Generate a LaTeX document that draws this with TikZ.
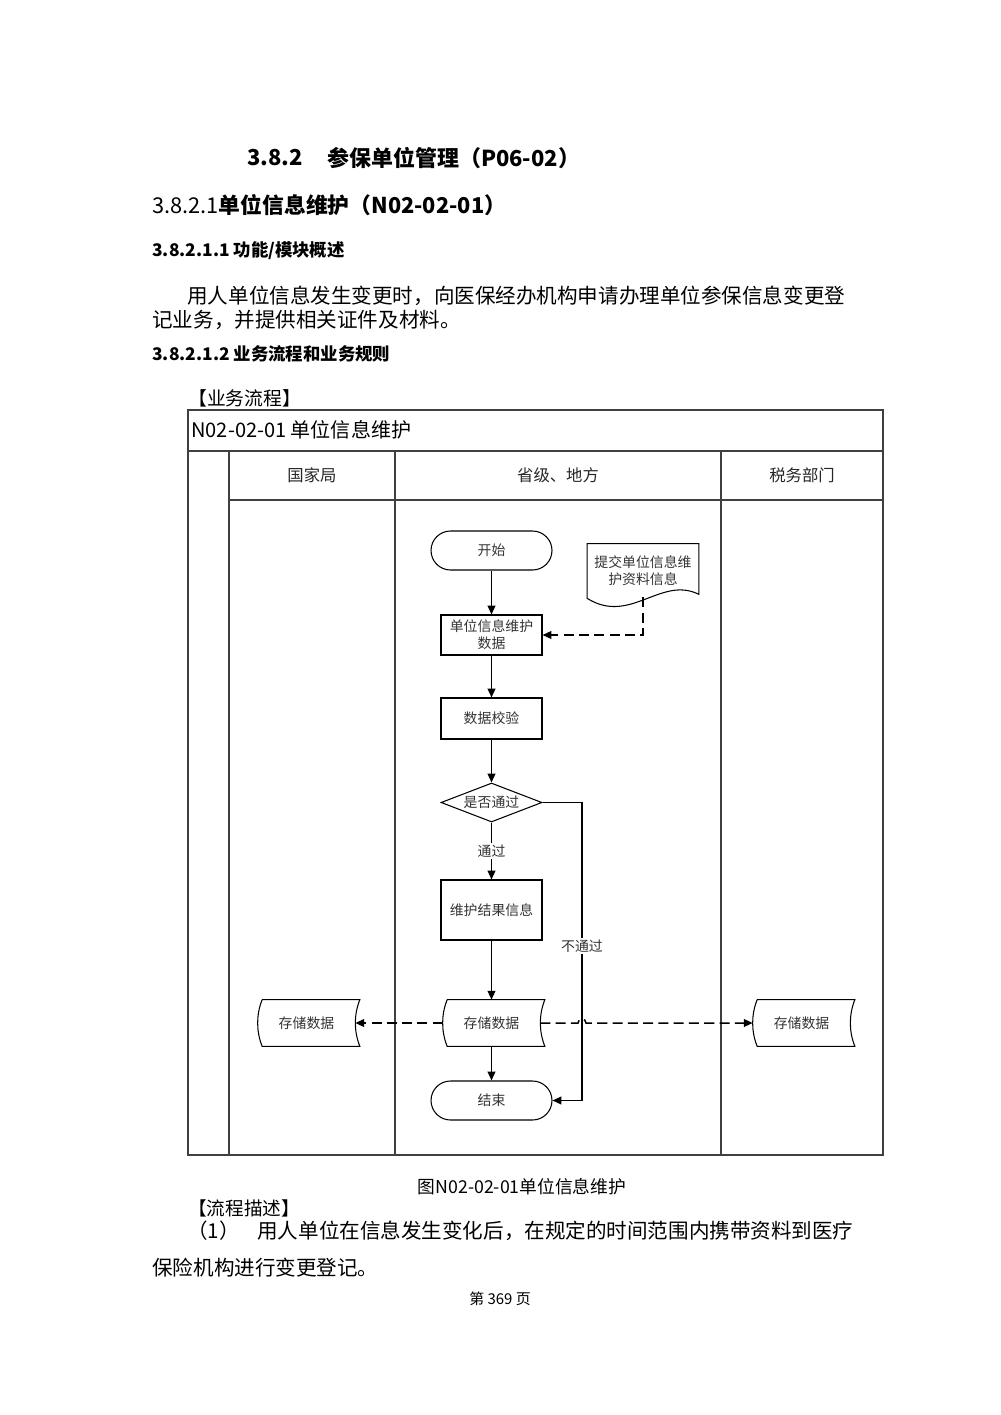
\documentclass[tikz,border=0pt]{standalone}
\usepackage{fontspec}
\setmainfont{Noto Sans CJK SC}
\usepackage{tikz}
\usetikzlibrary{shapes.geometric}
\usetikzlibrary{arrows.meta}

% outline of a stored-data symbol round a node
\newcommand{\drawstore}[1]{%
  \draw [line width=0.6pt] ([xshift=0.09cm]#1.north west) -- ([xshift=0.09cm]#1.north east)
    .. controls +(-0.12cm,-0.3cm) and +(-0.12cm,0.3cm) .. ([xshift=0.09cm]#1.south east)
    -- ([xshift=0.09cm]#1.south west)
    .. controls +(-0.12cm,0.3cm) and +(-0.12cm,-0.3cm) .. ([xshift=0.09cm]#1.north west);}

\begin{document}
\begin{tikzpicture}[x=0.02cm,y=-0.02cm,
    txt/.style={inner sep=0pt,anchor=west},
    bodytxt/.style={txt,font=\fontsize{11.7}{14}\selectfont},
    headtxt/.style={txt,font=\fontsize{9.9}{12}\selectfont\bfseries},
    lane/.style={line width=0.8pt,black!75},
    lanetxt/.style={inner sep=0pt,font=\fontsize{9.3}{11}\selectfont,text=black!85},
    shapetxt/.style={font=\fontsize{7.9}{9.8}\selectfont,text=black!80,align=center},
    flowbox/.style={shapetxt,draw,line width=0.6pt,minimum width=2.02cm,minimum height=0.8cm,inner sep=1pt},
    terminal/.style={shapetxt,draw,line width=0.6pt,rounded corners=0.39cm,minimum width=2.42cm,minimum height=0.78cm},
    decision/.style={shapetxt,draw,line width=0.6pt,diamond,aspect=2.6,inner sep=0pt,minimum width=2.02cm,minimum height=0.78cm},
    store/.style={shapetxt,inner sep=0pt,minimum width=1.94cm,minimum height=0.92cm},
    docshape/.style={shapetxt,inner sep=0pt,minimum width=2.22cm,minimum height=1.06cm},
    flow/.style={line width=0.85pt,-{Triangle[length=5pt,width=4.4pt]}},
    dflow/.style={flow,dash pattern=on 5.7pt off 3pt},
    lbl/.style={shapetxt,fill=white,inner sep=1pt}]
    \useasboundingbox (0,0) rectangle (1000,1415);

    % Headings and text above the chart
    \node [txt,font=\fontsize{12.5}{15}\selectfont\bfseries] (h382) at (247,158) {3.8.2};
    \node [txt,font=\fontsize{12.5}{15}\selectfont\bfseries] (h382t) at (327,158) {参保单位管理（P06-02）};
    \node [txt,font=\fontsize{12.4}{15}\selectfont] (h3821) at (152,205) {3.8.2.1\textbf{单位信息维护（N02-02-01）}};
    \node [headtxt] (h38211) at (152,251) {3.8.2.1.1 功能/模块概述};
    \node [bodytxt] (para1) at (187,296) {用人单位信息发生变更时，向医保经办机构申请办理单位参保信息变更登};
    \node [bodytxt] (para2) at (152,320) {记业务，并提供相关证件及材料。};
    \node [headtxt] (h38212) at (152,354) {3.8.2.1.2 业务流程和业务规则};
    \node [txt,font=\fontsize{10.7}{13}\selectfont] (flowttl) at (188,398) {【业务流程】};

    % Drawing the lane table
    \draw [lane] (188,410) rectangle (883,1155);
    \draw [lane] (188,451) -- (883,451);
    \draw [lane] (229,500) -- (883,500);
    \draw [lane] (229,451) -- (229,1155);
    \draw [lane] (395,451) -- (395,1155);
    \draw [lane] (721,451) -- (721,1155);
    \node [txt,font=\fontsize{11.4}{14}\selectfont] (tabttl) at (191,430) {N02-02-01 单位信息维护};
    \node [lanetxt] (lane1) at (312,475) {国家局};
    \node [lanetxt] (lane2) at (558,475) {省级、地方};
    \node [lanetxt] (lane3) at (802,475) {税务部门};

    % Flow nodes
    \node [terminal] (start) at (491.5,550.5) {开始};
    \node [docshape] (subdoc) at (643,570.5) {提交单位信息维\\护资料信息};
    \draw [line width=0.6pt] (subdoc.north west) -- (subdoc.north east) -- ([yshift=0.06cm]subdoc.south east)
        .. controls +(-0.76cm,0.38cm) and +(0.86cm,-0.54cm) .. ([yshift=-0.02cm]subdoc.south west) -- cycle;
    \node [flowbox] (maint) at (491.5,635) {单位信息维护\\数据};
    \node [flowbox,minimum height=0.82cm] (check) at (491.5,718.5) {数据校验};
    \node [decision] (pass) at (491.5,802.5) {是否通过};
    \node [flowbox,minimum height=1.2cm] (result) at (491.5,910) {维护结果信息};
    \node [store] (savenat) at (306.5,1023) {存储数据};
    \node [store] (saveloc) at (491.5,1023) {存储数据};
    \node [store] (savetax) at (801.5,1023) {存储数据};
    \drawstore{savenat}
    \drawstore{saveloc}
    \drawstore{savetax}
    \node [terminal] (finish) at (491.5,1100.5) {结束};

    % Drawing connectors
    \draw [flow] (start) -- (maint);
    \draw [dflow] (subdoc.south) |- (maint.east);
    \draw [flow] (maint) -- (check);
    \draw [flow] (check) -- (pass);
    \draw [flow] (pass) -- node [lbl] (lbpass) {通过} (result);
    \draw [flow] (result) -- (saveloc);
    \draw [flow] (saveloc) -- (finish);
    \coordinate (failturn) at (582,802.5);
    \draw [flow] (pass.east) -- (failturn) |- (finish.east);
    \node [lbl] (lbfail) at (582,946) {不通过};
    \draw [dflow] (saveloc.west) -- (savenat.east);
    \coordinate (hopin) at (578,1023);
    \draw [dflow] (saveloc.east) -- (hopin) arc [start angle=180,end angle=0,radius=0.08cm] -- (savetax.west);

    % Caption and text below the chart
    \node [inner sep=0pt,font=\fontsize{10.1}{12}\selectfont] (caption) at (522,1187) {图N02-02-01单位信息维护};
    \node [txt,font=\fontsize{10.6}{13}\selectfont] (descttl) at (188,1208) {【流程描述】};
    \node [bodytxt] (desc1n) at (187,1231) {（1）};
    \node [bodytxt] (desc1) at (257,1231) {用人单位在信息发生变化后，在规定的时间范围内携带资料到医疗};
    \node [bodytxt] (desc2) at (152,1268) {保险机构进行变更登记。};
    \node [inner sep=0pt,font=\fontsize{8.5}{10}\selectfont] (pageno) at (500,1299) {第 369 页};
\end{tikzpicture}
\end{document}
